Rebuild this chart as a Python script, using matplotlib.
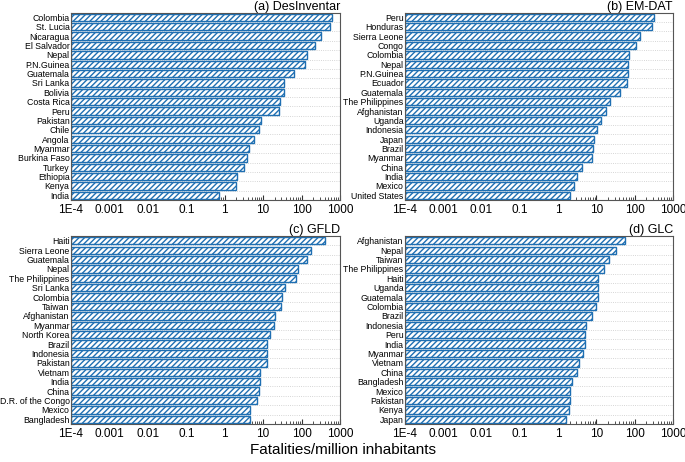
import matplotlib
matplotlib.use("Agg")
import matplotlib.pyplot as plt
import matplotlib.ticker as mticker

plt.rcParams['font.family'] = ['Liberation Sans', 'DejaVu Sans']
plt.rcParams['hatch.linewidth'] = 1.0
plt.rcParams['hatch.color'] = '#1f6fb2'

paises_a = ["Colombia", "St. Lucia", "Nicaragua", "El Salvador", "Nepal", "P.N.Guinea",
            "Guatemala", "Sri Lanka", "Bolivia", "Costa Rica", "Peru", "Pakistan", "Chile",
            "Angola", "Myanmar", "Burkina Faso", "Turkey", "Ethiopia", "Kenya", "India"]
valores_a = [610, 556, 324, 224, 138, 123, 64, 36, 35, 28, 26.6, 8.7, 7.7, 5.9, 4.4,
             3.76, 3.1, 2.05, 2.0, 0.73]

paises_b = ["Peru", "Honduras", "Sierra Leone", "Congo", "Colombia", "Nepal", "P.N.Guinea",
            "Ecuador", "Guatemala", "The Philippines", "Afghanistan", "Uganda", "Indonesia",
            "Japan", "Brazil", "Myanmar", "China", "India", "Mexico", "United States"]
valores_b = [318, 284, 140, 106, 72, 69, 67, 64, 41.5, 22.3, 18, 13, 10.2, 8.5, 8.2, 7.6,
             4.3, 3.1, 2.6, 2.0]

paises_c = ["Haiti", "Sierra Leone", "Guatemala", "Nepal", "The Philippines", "Sri Lanka",
            "Colombia", "Taiwan", "Afghanistan", "Myanmar", "North Korea", "Brazil",
            "Indonesia", "Pakistan", "Vietnam", "India", "China", "D.R. of the Congo",
            "Mexico", "Bangladesh"]
valores_c = [406, 173, 135, 79, 71, 37, 31, 30, 20, 19.5, 15, 12.9, 12.6, 12.3, 8.3, 8.2,
             7.8, 7.1, 4.6, 4.5]

paises_d = ["Afghanistan", "Nepal", "Taiwan", "The Philippines", "Haiti", "Uganda",
            "Guatemala", "Colombia", "Brazil", "Indonesia", "Peru", "India", "Myanmar",
            "Vietnam", "China", "Bangladesh", "Mexico", "Pakistan", "Kenya", "Japan"]
valores_d = [57, 33, 22, 15.6, 11, 11, 10.9, 9.6, 7.9, 5.5, 5.0, 4.9, 4.6, 3.5, 3.2, 2.35,
             2.1, 2.08, 1.95, 1.65]

titulos = ["(a) DesInventar", "(b) EM-DAT", "(c) GFLD", "(d) GLC"]
ticks_x = [1e-4, 1e-3, 1e-2, 1e-1, 1, 10, 100, 1000]
rotulos_x = ["1E-4", "0.001", "0.01", "0.1", "1", "10", "100", "1000"]

azul = '#1f6fb2'
base = 1e-4

fig = plt.figure(figsize=(6.85, 4.62), dpi=100)
posicoes = [
    [0.1036, 0.567, 0.3927, 0.4055],
    [0.5912, 0.567, 0.3912, 0.4055],
    [0.1036, 0.0823, 0.3927, 0.4067],
    [0.5912, 0.0823, 0.3912, 0.4067],
]
dados = [(paises_a, valores_a), (paises_b, valores_b), (paises_c, valores_c), (paises_d, valores_d)]

for pos, (paises, valores), titulo in zip(posicoes, dados, titulos):
    ax = fig.add_axes(pos)
    n = len(paises)
    ys = list(range(n))[::-1]
    larguras = [v - base for v in valores]
    ax.barh(ys, larguras, left=base, height=0.78, color='white', edgecolor=azul,
            hatch='//////', linewidth=1.0, zorder=2)
    ax.set_xscale('log')
    ax.set_xlim(1e-4, 1000)
    ax.set_ylim(-0.5, n - 0.5)
    ax.set_xticks(ticks_x)
    ax.set_xticklabels(rotulos_x)
    ax.xaxis.set_minor_locator(mticker.LogLocator(base=10, subs=(2, 3, 4, 5, 6, 7, 8, 9), numticks=20))
    ax.xaxis.set_minor_formatter(mticker.NullFormatter())
    ax.set_yticks(ys)
    ax.set_yticklabels(paises)
    for y in range(n - 1):
        ax.axhline(y + 0.5, color='#c8c8c8', linestyle=':', linewidth=0.6, zorder=1)
    ax.tick_params(axis='x', which='major', direction='in', length=3.5, width=0.8,
                   labelsize=8.5, pad=3, color='#333333')
    ax.tick_params(axis='x', which='minor', direction='in', length=2, width=0.6, color='#333333')
    ax.tick_params(axis='y', length=0, labelsize=6.3, pad=1)
    for s in ax.spines.values():
        s.set_color('#555555')
        s.set_linewidth(0.8)
    ax.set_title(titulo, loc='right', fontsize=9, pad=1.5)

fig.text(0.5, 0.025, "Fatalities/million inhabitants", ha='center', va='center', fontsize=11)

fig.savefig("out.png", dpi=100)
